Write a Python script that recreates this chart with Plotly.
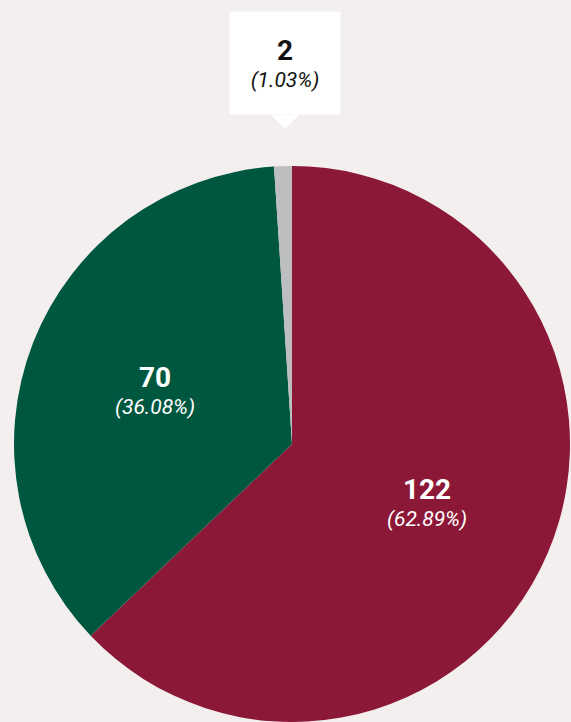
import math
import plotly.graph_objects as go

# Data
labels = ["Segment A", "Segment B", "Segment C"]
values = [122, 70, 2]
colors = ["#8C1838", "#00573F", "#BCBEC0"]

W, H = 571, 722
BG = "#F2EFEE"
FONT = "Roboto"

total = sum(values)
pcts = [v / total for v in values]

# Pie placement (paper fractions)
dom_x = [13 / W, 1.0]
dom_y = [0.0, 1 - 166 / H]
dom_w = (dom_x[1] - dom_x[0]) * W
dom_h = (dom_y[1] - dom_y[0]) * H
radius = min(dom_w, dom_h) / 2
cx = (dom_x[0] + dom_x[1]) / 2 * W
cy_top = H - (dom_y[0] + dom_y[1]) / 2 * H  # pixel from top

BIG, SMALL = 28, 21
LABEL_R = 0.53  # label distance from centre, as a fraction of the radius


def label_html(v, p, big=BIG, small=SMALL):
    return (f"<span style='font-size:{big}px'><b>{v}</b></span><br>"
            f"<span style='font-size:{small}px'><i>({p * 100:.2f}%)</i></span>")


def mid_angle(i):
    """Mid angle of slice i, clockwise from 12 o'clock, in radians."""
    return (sum(pcts[:i]) + pcts[i] / 2) * 2 * math.pi


fig = go.Figure(
    go.Pie(
        labels=labels,
        values=values,
        sort=False,
        direction="clockwise",
        rotation=0,
        marker=dict(colors=colors, line=dict(width=0)),
        textinfo="none",
        hoverinfo="skip",
        domain=dict(x=dom_x, y=dom_y),
    )
)

# Labels inside the two large slices
for i in range(2):
    a = mid_angle(i)
    x_px = cx + LABEL_R * radius * math.sin(a)
    y_px = cy_top - LABEL_R * radius * math.cos(a)
    fig.add_annotation(
        x=x_px / W, y=1 - y_px / H,
        xref="paper", yref="paper",
        xanchor="center", yanchor="middle",
        showarrow=False,
        text=label_html(values[i], pcts[i]),
        font=dict(family=FONT, color="white", size=SMALL),
        align="center",
    )

# Callout above the smallest slice
a = mid_angle(2)
tip_x_px = cx + radius * math.sin(a) + 2
pie_top_px = cy_top - radius
tip_y_px = pie_top_px - 37
box_bottom_px = tip_y_px - 14

fig.add_shape(
    type="path",
    xref="paper", yref="paper",
    xsizemode="pixel", ysizemode="pixel",
    xanchor=tip_x_px / W, yanchor=1 - tip_y_px / H,
    path="M -14,14 L 14,14 L 0,0 Z",
    fillcolor="white", line=dict(width=0),
    layer="above",
)

fig.add_annotation(
    x=tip_x_px / W, y=1 - box_bottom_px / H,
    xref="paper", yref="paper",
    xanchor="center", yanchor="bottom",
    showarrow=False,
    text=label_html(values[2], pcts[2]),
    font=dict(family=FONT, color="#111111", size=SMALL),
    bgcolor="white",
    width=110, height=102,
    borderpad=0,
    align="center", valign="middle",
)

fig.update_layout(
    width=W, height=H,
    margin=dict(l=0, r=0, t=0, b=0),
    paper_bgcolor=BG,
    plot_bgcolor=BG,
    showlegend=False,
)

fig.write_html("out.html")
